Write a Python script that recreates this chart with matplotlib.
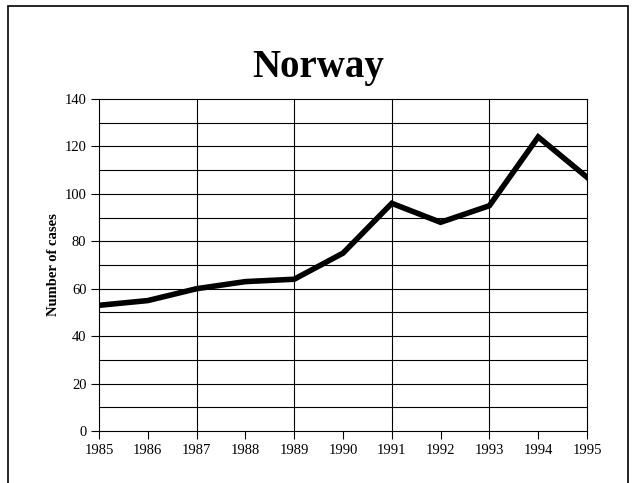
import matplotlib
matplotlib.use("Agg")
import matplotlib.pyplot as plt
from matplotlib.patches import Rectangle

years = [1985, 1986, 1987, 1988, 1989, 1990, 1991, 1992, 1993, 1994, 1995]
cases = [53, 55, 60, 63, 64, 75, 96, 88, 95, 124, 107]
y_ticks = [0, 20, 40, 60, 80, 100, 120, 140]

plt.rcParams['font.family'] = ['Liberation Serif', 'DejaVu Serif']

fig = plt.figure(figsize=(6.36, 4.83), dpi=100)
ax = fig.add_axes([99/636, 1 - 431/483, (587 - 99)/636, (431 - 99)/483])

# gridlines: every 10 horizontally, every 2 years vertically
for v in range(10, 141, 10):
    ax.axhline(v, color='black', lw=0.8, zorder=1, clip_on=False)
for yr in range(1987, 1996, 2):
    ax.axvline(yr, color='black', lw=0.8, zorder=1, clip_on=False)

ax.plot(years, cases, color='black', lw=4, solid_joinstyle='miter', zorder=3)

ax.set_xlim(1985, 1995)
ax.set_ylim(0, 140)
ax.set_xticks(years)
ax.set_xticklabels([str(y) for y in years], fontsize=10.5)
ax.set_yticks(y_ticks)
ax.set_yticklabels([str(v) for v in y_ticks], fontsize=10.5)
ax.tick_params(direction='out', length=6, width=0.8, color='black', pad=3)
for s in ['top', 'right']:
    ax.spines[s].set_visible(False)
ax.spines['left'].set_linewidth(0.8)
ax.spines['bottom'].set_linewidth(0.8)
ax.set_ylabel('Number of cases', fontsize=10.5, fontweight='bold', labelpad=3)

fig.text(0.5, 1 - 67/483, 'Norway', ha='center', va='center', fontsize=28, fontweight='bold')

fig.patches.append(Rectangle((8/636, -0.05), 620/636, 1.05 - 6/483, transform=fig.transFigure,
                             fill=False, edgecolor='black', lw=1.2))

fig.savefig('out.png', dpi=100)
